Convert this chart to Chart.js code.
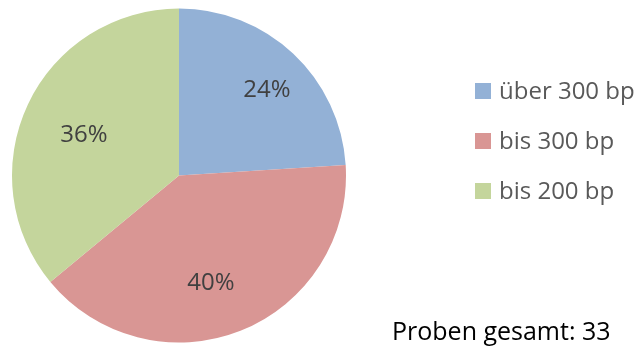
<!DOCTYPE html>
<html>

<head>
    <meta charset="utf-8" />
    <script src="https://cdn.jsdelivr.net/npm/chart.js"></script>
    <style>
        body {
            margin: 0;
            padding: 0;
            background-color: #ffffff;
        }

        .wrap {
            position: relative;
            width: 635px;
            height: 348px;
        }
    </style>
</head>

<body>
    <div class="wrap">
        <canvas id="pieChart" width="635" height="348"></canvas>
    </div>
</body>
<script>
    // Anteile der Proben nach Fragmentlänge (in Prozent)
    var categories = ["über 300 bp", "bis 300 bp", "bis 200 bp"];
    var shares = [24, 40, 36];
    var sliceColors = ["#93B1D6", "#D99694", "#C4D59C"];
    var totalSamples = 33;

    var FONT = "'Open Sans', sans-serif";

    // Prozentzahlen in die Segmente schreiben
    var sliceLabels = {
        id: "sliceLabels",
        afterDatasetsDraw: function (chart, args, opts) {
            var ctx = chart.ctx;
            var meta = chart.getDatasetMeta(0);
            var sum = shares.reduce(function (a, b) { return a + b; }, 0);
            ctx.save();
            ctx.font = "24px " + FONT;
            ctx.fillStyle = "#404040";
            ctx.textAlign = "center";
            ctx.textBaseline = "middle";
            meta.data.forEach(function (arc, i) {
                var p = arc.getProps(["x", "y", "startAngle", "endAngle", "outerRadius"], true);
                var mid = (p.startAngle + p.endAngle) / 2 + opts.nudge[i] * Math.PI / 180;
                var r = p.outerRadius * opts.radius[i];
                var txt = Math.round(shares[i] / sum * 100) + "%";
                ctx.fillText(txt, p.x + Math.cos(mid) * r, p.y + Math.sin(mid) * r);
            });
            ctx.restore();
        }
    };

    // Legende rechts neben dem Kreis und Gesamtzahl unten
    var sideLegend = {
        id: "sideLegend",
        afterDraw: function (chart) {
            var ctx = chart.ctx;
            ctx.save();
            ctx.font = "24px " + FONT;
            ctx.textBaseline = "middle";
            ctx.textAlign = "left";
            categories.forEach(function (name, i) {
                var cy = 91 + i * 50;
                ctx.fillStyle = sliceColors[i];
                ctx.fillRect(475, cy - 8, 16, 16);
                ctx.fillStyle = "#595959";
                ctx.fillText(name, 499, cy + 1);
            });
            ctx.font = "25px " + FONT;
            ctx.fillStyle = "#000000";
            ctx.textBaseline = "alphabetic";
            ctx.fillText("Proben gesamt: " + totalSamples, 392, 340);
            ctx.restore();
        }
    };

    var ctx = document.getElementById("pieChart").getContext("2d");
    var pieChart = new Chart(ctx, {
        type: "pie",
        data: {
            labels: categories,
            datasets: [
                {
                    data: shares,
                    backgroundColor: sliceColors,
                    borderWidth: 0,
                },
            ],
        },
        options: {
            responsive: false,
            animation: false,
            layout: {
                padding: { top: 8, bottom: 5, left: 12, right: 289 },
            },
            plugins: {
                legend: { display: false },
                tooltip: { enabled: false },
                sliceLabels: {
                    radius: [0.735, 0.67, 0.62],
                    nudge: [2.6, 5, -2],
                },
            },
        },
        plugins: [sliceLabels, sideLegend],
    });
</script>

</html>
